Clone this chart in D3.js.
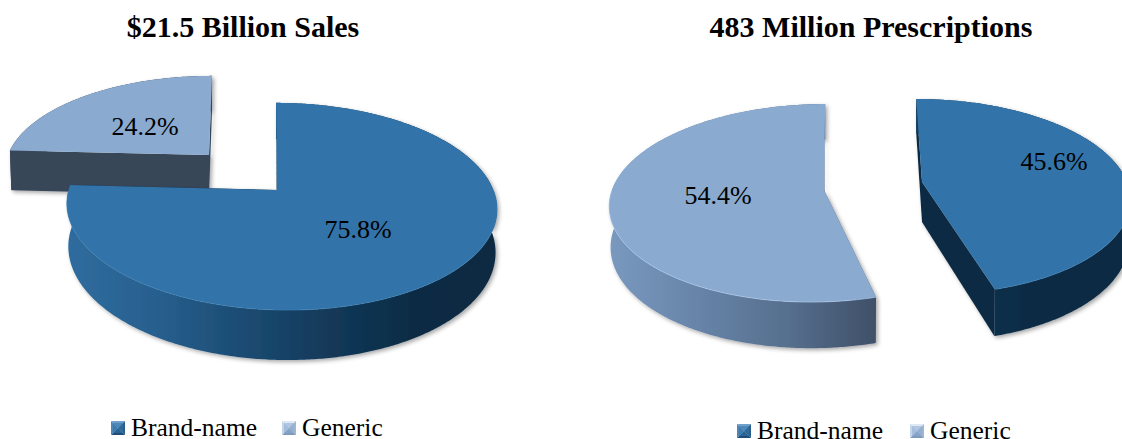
<!DOCTYPE html>
<html>
<head>
<meta charset="utf-8">
<script src="https://cdn.jsdelivr.net/npm/d3@7/dist/d3.min.js"></script>
<style>
html,body{margin:0;padding:0;background:#fff}
svg{display:block}
text{font-family:"Liberation Serif","Times New Roman",serif;fill:#000}
</style>
</head>
<body>
<svg id="chart" width="1122" height="439"></svg>
<script>
const categories = ["Brand-name", "Generic"];
const salesValues = [75.8, 24.2];
const prescriptionValues = [45.6, 54.4];
const chartTitles = ["$21.5 Billion Sales", "483 Million Prescriptions"];

const topColors = ["#3274a9", "#8aaad0"];
const rimColors = ["#3c80b6", "#b4cef0"];

const layouts = [
  { titleX: 243, legendX: 111, legendY: 421, legendGap: 171, slices: [
    { cx: 281, cy: 190, a: 212.3, b: 101, p: 0.159, s: -5.8, d: 42, ax: -4, lx: 358, ly: 238,
      wall: ["#2f6c9e", "#28608f", "#1c4c74", "#133a5a", "#0c2c45", "#0b2a42"], cut: "#0c2c45" },
    { cx: 209, cy: 155, a: 201, b: 91, p: 0.15, s: 3.5, d: 40, ax: 0, lx: 145, ly: 135,
      wall: ["#384659", "#384659"], cut: "#384659" }
  ]},
  { titleX: 871, legendX: 737, legendY: 424, legendGap: 173, slices: [
    { cx: 922, cy: 182, a: 205, b: 95.5, p: 0.15, s: -6.6, d: 40, ax: 0, lx: 1054, ly: 170,
      wall: ["#123a5c", "#0c2c45", "#0c2c45"], cut: "#0c2c45" },
    { cx: 819, cy: 190, a: 207, b: 97.3, p: 0.132, s: 7, d: 40, ax: 5, lx: 718, ly: 204,
      wall: ["#7a99bf", "#6784a8", "#566f8e", "#3f5068"], cut: "#4a5e79" }
  ]}
];
const seriesValues = [salesValues, prescriptionValues];

const svg = d3.select("#chart");
const defs = svg.append("defs");
const shadow = defs.append("filter").attr("id", "soft")
  .attr("x", "-10%").attr("y", "-10%").attr("width", "120%").attr("height", "125%");
shadow.append("feDropShadow").attr("dx", 2).attr("dy", 2)
  .attr("stdDeviation", 2).attr("flood-color", "#000").attr("flood-opacity", 0.35);

const pie = d3.pie().sort(null).value(d => d);
const line = d3.line();

function point(g, angle, low) {
  const u = Math.sin(angle), v = Math.cos(angle), w = 1 + g.p * v;
  const shrink = low ? 0.993 : 1;
  return [g.cx + (g.a * u + g.s * v) / w * shrink, g.cy + (-g.b * v + (low ? g.d : 0)) / w];
}
function apex(g, low) {
  return [g.cx + g.ax, g.cy + (low ? g.d : 0)];
}
function sweep(a0, a1) {
  const n = Math.ceil((a1 - a0) / 0.01);
  return d3.range(n + 1).map(i => a0 + (a1 - a0) * i / n);
}

layouts.forEach((layout, ci) => {
  const root = svg.append("g");
  const arcs = pie(seriesValues[ci]);

  // generic slice sits behind brand on the first pie
  const order = ci === 0 ? [1, 0] : [0, 1];
  order.forEach(i => {
    const g = layout.slices[i], arc = arcs[i];
    const angles = sweep(arc.startAngle, arc.endAngle);
    const top = angles.map(t => point(g, t, false));
    const bottom = angles.map(t => point(g, t, true));
    const grp = root.append("g").attr("filter", "url(#soft)");

    const gid = `wall-${ci}-${i}`;
    const ext = d3.extent(top, d => d[0]);
    const grad = defs.append("linearGradient").attr("id", gid)
      .attr("gradientUnits", "userSpaceOnUse")
      .attr("x1", ext[0]).attr("x2", ext[1]).attr("y1", 0).attr("y2", 0);
    g.wall.forEach((c, k) => grad.append("stop")
      .attr("offset", k / (g.wall.length - 1)).attr("stop-color", c));

    // cut faces
    [arc.startAngle, arc.endAngle].forEach(t => {
      grp.append("path")
        .attr("d", line([apex(g, false), point(g, t, false), point(g, t, true), apex(g, true)]) + "Z")
        .attr("fill", g.cut);
    });
    // outer wall
    grp.append("path")
      .attr("d", line(top.concat(bottom.slice().reverse())) + "Z")
      .attr("fill", `url(#${gid})`);
    // top face
    root.append("path")
      .attr("d", line([apex(g, false)].concat(top)) + "Z")
      .attr("fill", topColors[i]);
    // bevel highlight along the near side of the rim only
    const near = angles.filter(t => Math.cos(t) < 0).map(t => point(g, t, false));
    root.append("path")
      .attr("d", line(near))
      .attr("fill", "none")
      .attr("stroke", rimColors[i])
      .attr("stroke-width", 1)
      .attr("stroke-opacity", 0.6);
  });

  // value labels on top of every slice
  arcs.forEach((arc, i) => {
    const g = layout.slices[i];
    root.append("text").attr("x", g.lx).attr("y", g.ly)
      .attr("text-anchor", "middle").attr("font-size", 26)
      .text(d3.format(".1f")(arc.data) + "%");
  });

  root.append("text").attr("x", layout.titleX).attr("y", 37)
    .attr("text-anchor", "middle").attr("font-size", 30).attr("font-weight", "bold")
    .text(chartTitles[ci]);

  // legend
  const swatchSize = 14;
  const shades = [
    { top: "#6fa0cc", left: "#4f86b6", right: "#2a5f8c", bottom: "#1f4f78", mid: "#3274a9" },
    { top: "#dfe9f5", left: "#c4d5ea", right: "#9db6d3", bottom: "#7f9bbb", mid: "#8aaad0" }
  ];
  categories.forEach((name, i) => {
    const x0 = layout.legendX + i * layout.legendGap, y0 = layout.legendY, s = swatchSize;
    const c = [x0 + s / 2, y0 + s / 2];
    const corners = [[x0, y0], [x0 + s, y0], [x0 + s, y0 + s], [x0, y0 + s]];
    const sides = ["top", "right", "bottom", "left"];
    sides.forEach((side, k) => {
      root.append("path")
        .attr("d", line([corners[k], corners[(k + 1) % 4], c]) + "Z")
        .attr("fill", shades[i][side]);
    });
    root.append("rect").attr("x", x0 + 2).attr("y", y0 + 2)
      .attr("width", s - 4).attr("height", s - 4)
      .attr("fill", shades[i].mid).attr("fill-opacity", 0.55);
    root.append("text").attr("x", x0 + s + 6).attr("y", y0 + 15)
      .attr("font-size", 25.5).text(name);
  });
});
</script>
</body>
</html>
